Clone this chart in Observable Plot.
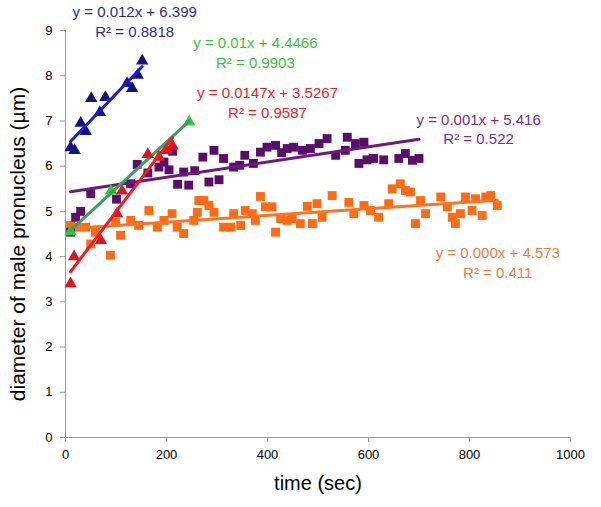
<!DOCTYPE html>
<html><head><meta charset="utf-8">
<script src="https://cdn.jsdelivr.net/npm/d3@7"></script>
<script src="https://cdn.jsdelivr.net/npm/@observablehq/plot@0.6"></script>
<style>body{margin:0;background:#fff;}</style>
</head><body><div id="chart"></div>
<script>
// ---- data (time in sec, diameter in µm) ----
const blueTime = [10, 18, 30, 40, 51, 68, 79, 122, 132, 143, 152];
const blueDiam = [6.41, 6.35, 6.95, 6.77, 7.5, 7.19, 7.52, 7.83, 7.72, 8.01, 8.33];

const greenTime = [10, 90, 245];
const greenDiam = [4.55, 5.45, 6.98];

const redTime = [10, 17, 70, 102, 112, 163, 185, 200, 212];
const redDiam = [3.40, 4.0, 4.36, 4.95, 5.45, 6.26, 6.2, 6.35, 6.45];

const purpleTime = [10, 20, 30, 50, 101, 129, 142, 163, 185, 195, 205, 212, 222, 234, 244, 256, 272, 284, 294, 304, 313, 333, 345, 355, 372, 386, 399, 416, 428, 439, 452, 469, 485, 502, 518, 535, 554, 558, 574, 581, 591, 597, 610, 630, 660, 673, 687, 700];
const purpleDiam = [4.54, 4.87, 5.0, 5.39, 5.27, 5.61, 6.04, 5.85, 5.98, 6.09, 5.92, 6.33, 5.6, 5.87, 5.58, 5.9, 6.2, 5.65, 6.35, 5.7, 6.17, 5.98, 6.02, 6.24, 6.06, 6.31, 6.42, 6.46, 6.3, 6.39, 6.42, 6.35, 6.39, 6.5, 6.61, 6.24, 6.35, 6.64, 6.5, 6.06, 6.53, 6.14, 6.17, 6.14, 6.17, 6.28, 6.13, 6.17];

const orangeTime = [10, 23, 40, 50, 59, 89, 99, 109, 129, 145, 165, 182, 195, 211, 221, 234, 254, 261, 264, 274, 284, 294, 313, 327, 333, 347, 356, 370, 376, 386, 396, 409, 416, 426, 439, 449, 465, 479, 489, 498, 508, 528, 561, 571, 591, 604, 620, 640, 647, 663, 673, 683, 693, 703, 713, 743, 756, 766, 772, 782, 792, 805, 812, 825, 832, 842, 855];
const orangeDiam = [4.69, 4.65, 4.65, 4.28, 4.54, 4.03, 4.76, 4.47, 4.8, 4.69, 5.02, 4.65, 4.8, 4.95, 4.65, 4.51, 4.8, 4.98, 5.24, 5.24, 5.13, 4.98, 4.65, 4.65, 4.95, 4.69, 5.02, 4.95, 4.8, 5.33, 5.1, 5.1, 4.54, 4.84, 4.8, 4.84, 4.73, 5.11, 4.73, 5.17, 4.87, 5.35, 5.2, 4.95, 5.13, 5.02, 4.87, 5.17, 5.5, 5.61, 5.46, 5.43, 4.73, 5.24, 4.95, 5.32, 5.1, 4.87, 4.73, 4.95, 5.32, 5.02, 5.28, 4.91, 5.32, 5.35, 5.13];

const equationLines = ["y = 0.012x + 6.399", "y = 0.01x + 4.4466", "y = 0.0147x + 3.5267", "y = 0.001x + 5.416", "y = 0.000x + 4.573"];
const r2Lines = ["R² = 0.8818", "R² = 0.9903", "R² = 0.9587", "R² = 0.522", "R² = 0.411"];

const xTicks = [0, 200, 400, 600, 800, 1000];
const yTicks = [0, 1, 2, 3, 4, 5, 6, 7, 8, 9];
const xTitle = "time (sec)";
const yTitle = "diameter of male pronucleus (µm)";

// ---- build tables ----
const toRows = (ts, vs) => ts.map((t, i) => ({t, v: vs[i]}));
const blue = toRows(blueTime, blueDiam);
const green = toRows(greenTime, greenDiam);
const red = toRows(redTime, redDiam);
const purple = toRows(purpleTime, purpleDiam);
const orange = toRows(orangeTime, orangeDiam);

// styling per series (order: blue, green, red, purple, orange)
const textColors = ["#2d2d8f", "#39c339", "#e8232a", "#7d2c88", "#f07d3a"];
// annotation anchors (data units) for the equation labels
const labelT = [137, 376, 400, 818, 856];
const labelV1 = [9.40, 8.72, 7.61, 7.01, 4.07];
const labelV2 = [8.96, 8.27, 7.17, 6.59, 3.63];
const labels = equationLines.map((e, i) => ({e, r: r2Lines[i], c: textColors[i], t: labelT[i], v1: labelV1[i], v2: labelV2[i]}));

const series = (rows, symbol, fill, line, r) => [
  Plot.dot(rows, {x: "t", y: "v", symbol, fill, r, stroke: "none"}),
  Plot.linearRegressionY(rows, {x: "t", y: "v", stroke: line, strokeWidth: 3, ci: 0})
];

const chart = Plot.plot({
  width: 601, height: 507,
  marginLeft: 65, marginRight: 31, marginTop: 30, marginBottom: 70,
  style: {fontFamily: "'Liberation Sans', Arial, sans-serif", fontSize: "13px", color: "#000", background: "#fff", overflow: "visible"},
  x: {domain: [0, 1000]},
  y: {domain: [0, 9]},
  marks: [
    Plot.ruleY([0], {stroke: "#9a9a9a"}),
    Plot.ruleX([0], {stroke: "#9a9a9a"}),
    Plot.axisX({ticks: xTicks, tickFormat: d => String(d), tickSize: 5, stroke: "#9a9a9a", fill: "#000", tickPadding: 7, label: null, fontSize: 13}),
    Plot.axisY({ticks: yTicks, tickFormat: d => String(d), tickSize: 5, stroke: "#9a9a9a", fill: "#000", tickPadding: 8, label: null, fontSize: 13}),
    ...series(orange, "square", "#ff6a12", "#ff7220", 5),
    ...series(purple, "square", "#5b0d6c", "#6b1b7c", 5),
    ...series(green, "triangle", "#2bd12b", "#3a9f5f", 4.6),
    ...series(red, "triangle", "#e0141e", "#ee1c24", 4.6),
    ...series(blue, "triangle", "#14147a", "#1a1ae0", 4.6),
    Plot.text(labels, {x: "t", y: "v1", text: "e", fill: "c", fontSize: 15}),
    Plot.text(labels, {x: "t", y: "v2", text: "r", fill: "c", fontSize: 15}),
    Plot.text([xTitle], {frameAnchor: "bottom", dy: 52, text: d => d, fontSize: 20, fill: "#000"}),
    Plot.text([yTitle], {frameAnchor: "left", textAnchor: "middle", dx: -47, dy: 10, rotate: -90, text: d => d, fontSize: 21, fill: "#000"})
  ]
});
document.getElementById("chart").appendChild(chart);
</script>
</body></html>
